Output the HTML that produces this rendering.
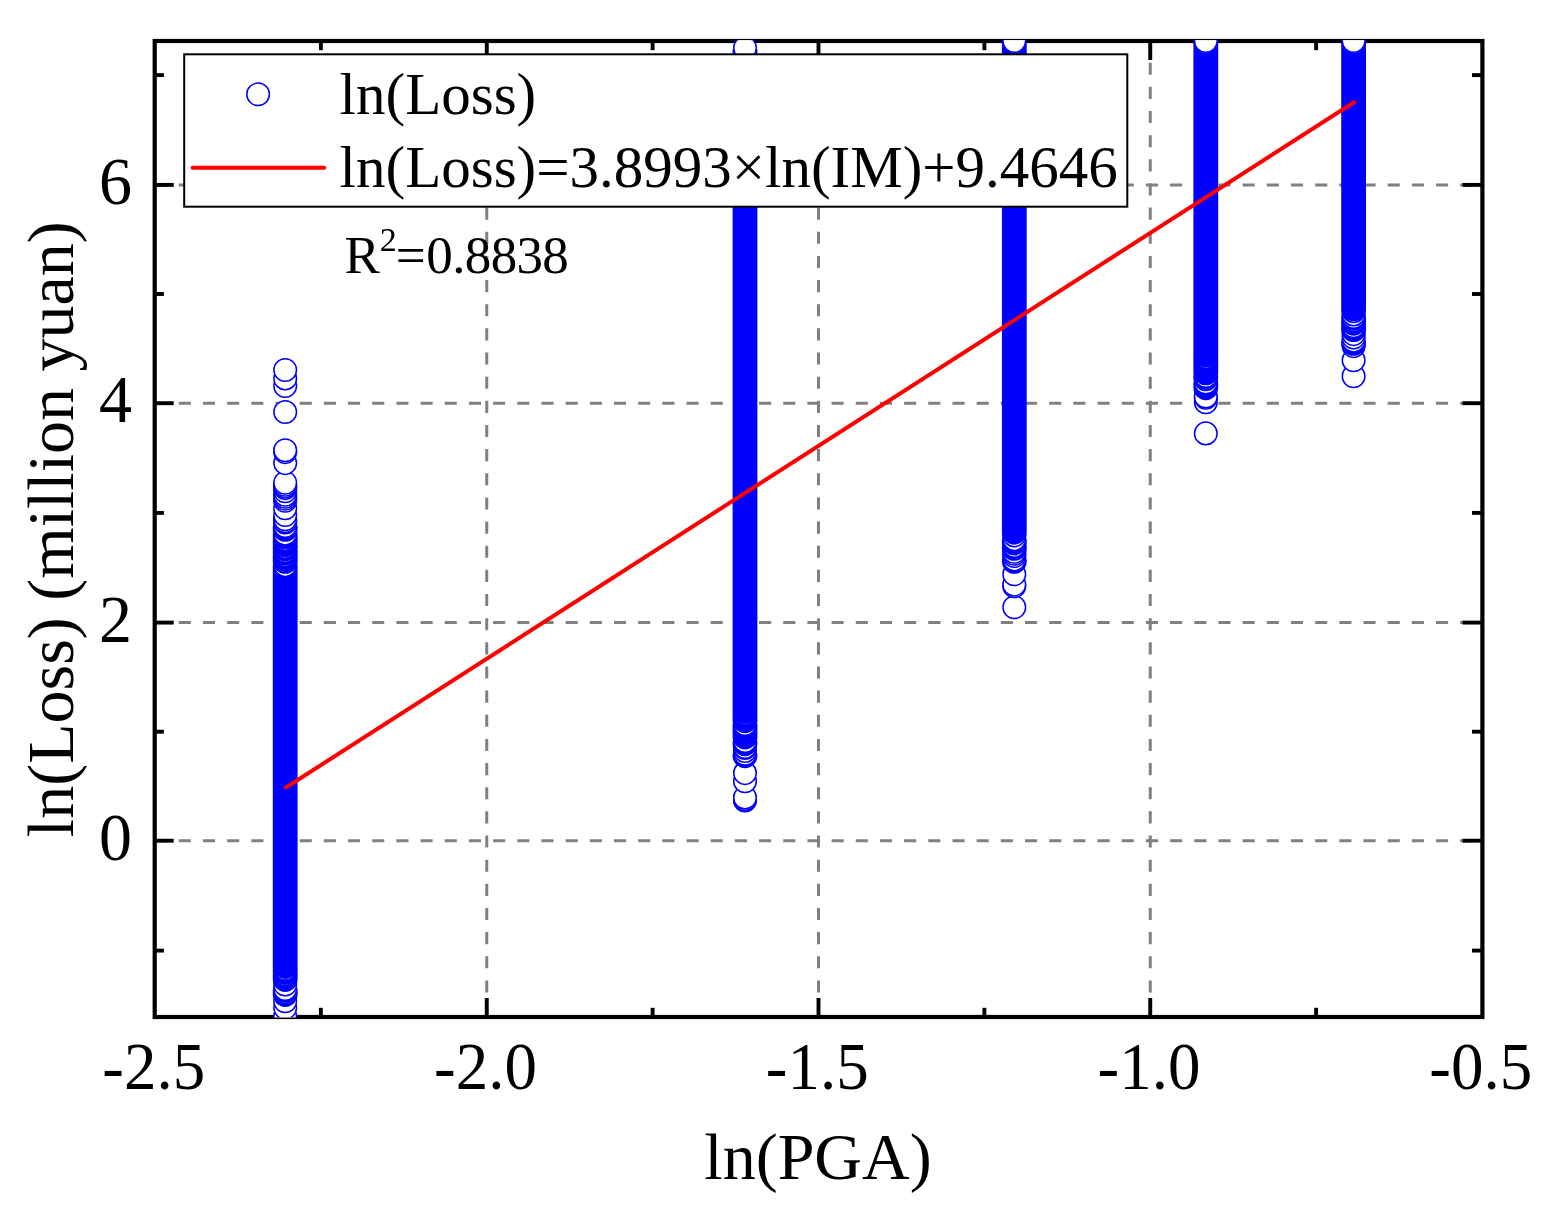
<!DOCTYPE html><html><head><meta charset="utf-8"><title>ln(Loss) vs ln(PGA)</title>
<style>html,body{margin:0;padding:0;background:#fff}svg{display:block}text{font-family:"Liberation Serif","Times New Roman",serif;fill:#000}.d circle{fill:#fff;stroke:#0000ff;stroke-width:1.5px}.d path{fill:#0000ff}.g line{stroke:#808080;stroke-width:3;stroke-dasharray:12.1 12.05}.a line{stroke:#000;stroke-width:3.9}</style></head><body>
<svg width="1561" height="1222" viewBox="0 0 1561 1222">
<rect width="1561" height="1222" fill="#fff"/>
<defs><clipPath id="cp"><rect x="154.7" y="40.2" width="1327.7" height="977.0999999999999"/></clipPath></defs>
<g class="g">
<line x1="486.75" y1="1016.65" x2="486.75" y2="41.0"/>
<line x1="818.50" y1="1016.65" x2="818.50" y2="41.0"/>
<line x1="1150.25" y1="1016.65" x2="1150.25" y2="41.0"/>
<line x1="154.6" y1="840.70" x2="1482.4" y2="840.70" style="stroke-dasharray:12.1 12.078"/>
<line x1="154.6" y1="622.60" x2="1482.4" y2="622.60" style="stroke-dasharray:12.1 12.078"/>
<line x1="154.6" y1="403.20" x2="1482.4" y2="403.20" style="stroke-dasharray:12.1 12.078"/>
<line x1="154.6" y1="184.90" x2="1482.4" y2="184.90" style="stroke-dasharray:12.1 12.078"/>
</g>
<g class="a">
<rect x="154.7" y="41.0" width="1327.7" height="976.0" fill="none" stroke="#000" stroke-width="4.2"/>
<line x1="486.75" y1="1017.0" x2="486.75" y2="998.0"/><line x1="486.75" y1="41.0" x2="486.75" y2="60.0"/>
<line x1="818.50" y1="1017.0" x2="818.50" y2="998.0"/><line x1="818.50" y1="41.0" x2="818.50" y2="60.0"/>
<line x1="1150.25" y1="1017.0" x2="1150.25" y2="998.0"/><line x1="1150.25" y1="41.0" x2="1150.25" y2="60.0"/>
<line x1="320.88" y1="1017.0" x2="320.88" y2="1007.8"/><line x1="320.88" y1="41.0" x2="320.88" y2="50.2"/>
<line x1="652.62" y1="1017.0" x2="652.62" y2="1007.8"/><line x1="652.62" y1="41.0" x2="652.62" y2="50.2"/>
<line x1="984.38" y1="1017.0" x2="984.38" y2="1007.8"/><line x1="984.38" y1="41.0" x2="984.38" y2="50.2"/>
<line x1="1316.12" y1="1017.0" x2="1316.12" y2="1007.8"/><line x1="1316.12" y1="41.0" x2="1316.12" y2="50.2"/>
<line x1="154.7" y1="840.70" x2="173.7" y2="840.70"/><line x1="1482.4" y1="840.70" x2="1462.5" y2="840.70"/>
<line x1="154.7" y1="622.60" x2="173.7" y2="622.60"/><line x1="1482.4" y1="622.60" x2="1462.5" y2="622.60"/>
<line x1="154.7" y1="403.20" x2="173.7" y2="403.20"/><line x1="1482.4" y1="403.20" x2="1462.5" y2="403.20"/>
<line x1="154.7" y1="184.90" x2="173.7" y2="184.90"/><line x1="1482.4" y1="184.90" x2="1462.5" y2="184.90"/>
<line x1="154.7" y1="950.60" x2="163.89999999999998" y2="950.60"/><line x1="1482.4" y1="950.60" x2="1472.0" y2="950.60"/>
<line x1="154.7" y1="731.70" x2="163.89999999999998" y2="731.70"/><line x1="1482.4" y1="731.70" x2="1472.0" y2="731.70"/>
<line x1="154.7" y1="512.90" x2="163.89999999999998" y2="512.90"/><line x1="1482.4" y1="512.90" x2="1472.0" y2="512.90"/>
<line x1="154.7" y1="294.00" x2="163.89999999999998" y2="294.00"/><line x1="1482.4" y1="294.00" x2="1472.0" y2="294.00"/>
<line x1="154.7" y1="75.10" x2="163.89999999999998" y2="75.10"/><line x1="1482.4" y1="75.10" x2="1472.0" y2="75.10"/>
</g>
<g class="d" clip-path="url(#cp)">
<g transform="translate(285.2,0)"><circle r="11.3" cy="1022"/><circle r="11.3" cy="1016"/><circle r="11.3" cy="1007.8"/><circle r="11.3" cy="1001.2"/><path d="M-12.4 992.6V994.6A12.4 12.4 0 0 0 12.4 994.6V992.6Z"/><circle r="11.3" cy="992.6"/><path d="M-12.4 989V990.5A12.4 12.4 0 0 0 12.4 990.5V989Z"/><circle r="11.3" cy="989"/><circle r="11.3" cy="984.5"/><path d="M-12.4 974.6V979.5A12.4 12.4 0 0 0 12.4 979.5V974.6Z"/><circle r="11.3" cy="974.6"/><path d="M-12.4 968.7V972.5A12.4 12.4 0 0 0 12.4 972.5V968.7Z"/><circle r="11.3" cy="968.7"/><path d="M-12.4 565.1V966.6A12.4 12.4 0 0 0 12.4 966.6V565.1Z"/><circle r="11.3" cy="565.1"/><path d="M-12.4 555.35V561.4A12.4 12.4 0 0 0 12.4 561.4V555.35Z"/><circle r="11.3" cy="555.35"/><path d="M-12.4 550.85V553.25A12.4 12.4 0 0 0 12.4 553.25V550.85Z"/><circle r="11.3" cy="550.85"/><path d="M-12.4 546.85V548.75A12.4 12.4 0 0 0 12.4 548.75V546.85Z"/><circle r="11.3" cy="546.85"/><path d="M-12.4 539.1V544.75A12.4 12.4 0 0 0 12.4 544.75V539.1Z"/><circle r="11.3" cy="539.1"/><path d="M-12.4 533.6V537.05A12.4 12.4 0 0 0 12.4 537.05V533.6Z"/><circle r="11.3" cy="533.6"/><path d="M-12.4 526V529.4A12.4 12.4 0 0 0 12.4 529.4V526Z"/><circle r="11.3" cy="526"/><circle r="11.3" cy="522.5"/><circle r="11.3" cy="521.2"/><circle r="11.3" cy="519.3"/><circle r="11.3" cy="515"/><circle r="11.3" cy="508.3"/><circle r="11.3" cy="500.7"/><circle r="11.3" cy="498.7"/><circle r="11.3" cy="496.7"/><circle r="11.3" cy="494.7"/><circle r="11.3" cy="491.2"/><circle r="11.3" cy="488.1"/><circle r="11.3" cy="486.6"/><circle r="11.3" cy="484.8"/><circle r="11.3" cy="482.8"/><circle r="11.3" cy="463.1"/><circle r="11.3" cy="452.1"/><circle r="11.3" cy="450.2"/><circle r="11.3" cy="412"/><circle r="11.3" cy="386"/><circle r="11.3" cy="378.4"/><circle r="11.3" cy="370"/></g>
<g transform="translate(745.0,0)"><circle r="11.3" cy="800.4"/><circle r="11.3" cy="799"/><circle r="11.3" cy="797.5"/><circle r="11.3" cy="781.3"/><circle r="11.3" cy="773.1"/><path d="M-12.4 753.75V755.75A12.4 12.4 0 0 0 12.4 755.75V753.75Z"/><circle r="11.3" cy="753.75"/><circle r="11.3" cy="750.9"/><circle r="11.3" cy="747.9"/><circle r="11.3" cy="746.95"/><path d="M-12.4 741.05V743.75A12.4 12.4 0 0 0 12.4 743.75V741.05Z"/><circle r="11.3" cy="741.05"/><path d="M-12.4 724.05V737.05A12.4 12.4 0 0 0 12.4 737.05V724.05Z"/><circle r="11.3" cy="724.05"/><path d="M-12.4 713.65V720.85A12.4 12.4 0 0 0 12.4 720.85V713.65Z"/><circle r="11.3" cy="713.65"/><path d="M-12.4 49.5V711.5A12.4 12.4 0 0 0 12.4 711.5V49.5Z"/><circle r="11.3" cy="49.5"/><circle r="11.3" cy="48"/></g>
<g transform="translate(1014.3,0)"><circle r="11.3" cy="607.2"/><circle r="11.3" cy="586.2"/><circle r="11.3" cy="584.6"/><circle r="11.3" cy="574.3"/><path d="M-12.4 559.35V561.45A12.4 12.4 0 0 0 12.4 561.45V559.35Z"/><circle r="11.3" cy="559.35"/><circle r="11.3" cy="556.05"/><circle r="11.3" cy="553.7"/><circle r="11.3" cy="551.75"/><path d="M-12.4 545.85V548.45A12.4 12.4 0 0 0 12.4 548.45V545.85Z"/><circle r="11.3" cy="545.85"/><path d="M-12.4 539.15V543.05A12.4 12.4 0 0 0 12.4 543.05V539.15Z"/><circle r="11.3" cy="539.15"/><circle r="11.3" cy="535.4"/><path d="M-12.4 42.5V532.25A12.4 12.4 0 0 0 12.4 532.25V42.5Z"/><circle r="11.3" cy="42.5"/><circle r="11.3" cy="41"/></g>
<g transform="translate(1205.8,0)"><circle r="11.3" cy="433.4"/><circle r="11.3" cy="402.3"/><circle r="11.3" cy="397.7"/><circle r="11.3" cy="396.5"/><path d="M-12.4 382.55V387.85A12.4 12.4 0 0 0 12.4 387.85V382.55Z"/><circle r="11.3" cy="382.55"/><circle r="11.3" cy="379.3"/><path d="M-12.4 375.95V377.45A12.4 12.4 0 0 0 12.4 377.45V375.95Z"/><circle r="11.3" cy="375.95"/><path d="M-12.4 357.05V372.95A12.4 12.4 0 0 0 12.4 372.95V357.05Z"/><circle r="11.3" cy="357.05"/><path d="M-12.4 42.5V354.95A12.4 12.4 0 0 0 12.4 354.95V42.5Z"/><circle r="11.3" cy="42.5"/><circle r="11.3" cy="41"/></g>
<g transform="translate(1353.6,0)"><circle r="11.3" cy="376.3"/><circle r="11.3" cy="360.3"/><circle r="11.3" cy="346.1"/><path d="M-12.4 340.65V343.45A12.4 12.4 0 0 0 12.4 343.45V340.65Z"/><circle r="11.3" cy="340.65"/><circle r="11.3" cy="337.6"/><circle r="11.3" cy="334.1"/><path d="M-12.4 326.25V329.65A12.4 12.4 0 0 0 12.4 329.65V326.25Z"/><circle r="11.3" cy="326.25"/><path d="M-12.4 320.5V323.35A12.4 12.4 0 0 0 12.4 323.35V320.5Z"/><circle r="11.3" cy="320.5"/><path d="M-12.4 316.9V318.45A12.4 12.4 0 0 0 12.4 318.45V316.9Z"/><circle r="11.3" cy="316.9"/><circle r="11.3" cy="314.4"/><circle r="11.3" cy="311.15"/><path d="M-12.4 42.5V308.95A12.4 12.4 0 0 0 12.4 308.95V42.5Z"/><circle r="11.3" cy="42.5"/><circle r="11.3" cy="41"/></g>
</g>
<line x1="286.0" y1="787.50" x2="1354.0" y2="102.20" stroke="#ff0000" stroke-width="4" stroke-linecap="round"/>
<g font-size="66" text-anchor="middle">
<text transform="translate(153.80,1089.3) scale(0.985,1.035)">-2.5</text>
<text transform="translate(485.55,1089.3) scale(0.985,1.035)">-2.0</text>
<text transform="translate(817.30,1089.3) scale(0.985,1.035)">-1.5</text>
<text transform="translate(1149.05,1089.3) scale(0.985,1.035)">-1.0</text>
<text transform="translate(1480.80,1089.3) scale(0.985,1.035)">-0.5</text>
</g>
<g font-size="66" text-anchor="end">
<text transform="translate(132,859.90) scale(1,1.035)">0</text>
<text transform="translate(132,641.80) scale(1,1.035)">2</text>
<text transform="translate(132,422.40) scale(1,1.035)">4</text>
<text transform="translate(132,204.10) scale(1,1.035)">6</text>
</g>
<text x="818" y="1178.5" font-size="66" text-anchor="middle">ln(PGA)</text>
<text transform="translate(73,529.2) rotate(-90)" font-size="66" text-anchor="middle">ln(Loss) (million yuan)</text>
<rect x="184.2" y="54.3" width="943.1" height="152.4" fill="#fff" stroke="#000" stroke-width="2"/>
<circle cx="258.1" cy="94.3" r="11.3" fill="#fff" stroke="#0000ff" stroke-width="1.5"/>
<line x1="192.6" y1="167.8" x2="324.2" y2="167.8" stroke="#ff0000" stroke-width="4" stroke-linecap="round"/>
<text x="339.6" y="113.8" font-size="59">ln(Loss)</text>
<text x="339.6" y="186.5" font-size="59">ln(Loss)=3.8993×ln(IM)+9.4646</text>
<text x="344.4" y="273.3" font-size="53">R<tspan font-size="34" dy="-22.5">2</tspan><tspan dy="22.5" dx="-1">=</tspan><tspan dx="0.7" letter-spacing="-0.65">0.8838</tspan></text>
</svg></body></html>
